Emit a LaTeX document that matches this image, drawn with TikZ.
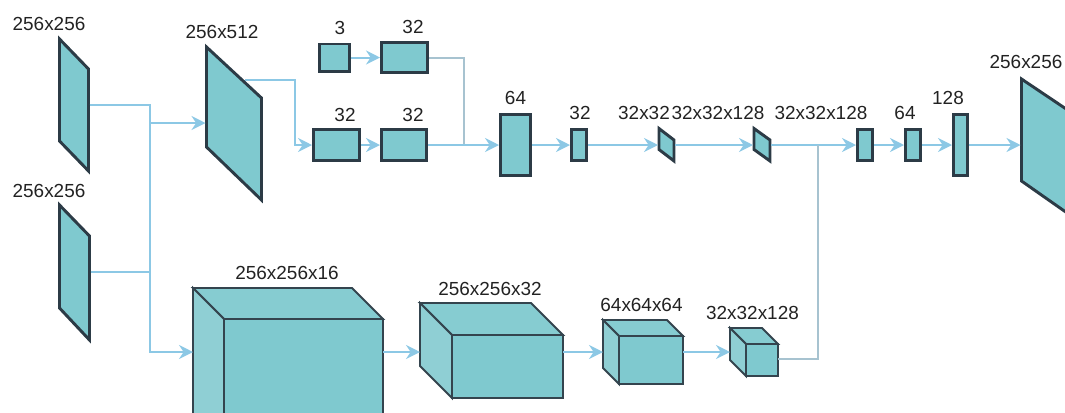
\documentclass[tikz,border=0pt]{standalone}
\usepackage{fontspec}
\setmainfont{Liberation Sans}
\usetikzlibrary{arrows.meta}

\definecolor{fillc}{HTML}{7FC9CF}
\definecolor{topc}{HTML}{86CCD1}
\definecolor{sidec}{HTML}{8FCFD4}
\definecolor{edgec}{HTML}{2C3B46}
\definecolor{cubec}{HTML}{34444E}
\definecolor{arrc}{HTML}{8CC8E5}
\definecolor{lnkc}{HTML}{A7C3D0}
\definecolor{txtc}{HTML}{222222}

\tikzset{
  plane/.style={draw=edgec, line width=2.2pt, fill=fillc, line join=miter},
  blk/.style 2 args={plane, rectangle, inner sep=0pt,
    minimum width=#1*0.75pt-2.2pt, minimum height=#2*0.75pt-2.2pt},
  cubeedge/.style={draw=cubec, line width=1.4pt, line join=miter},
  lbl/.style={font=\fontsize{14.2}{17}\selectfont, text=txtc, inner sep=0pt},
  flow/.style={draw=arrc, line width=1.5pt,
    -{Stealth[length=10.5pt,width=10.5pt,inset=3.5pt]}},
  wire/.style={draw=lnkc, line width=1.5pt},
  feed/.style={draw=arrc, line width=1.5pt},
}

% feature block: name, back-left x, back-top y, width, height, depth
\newcommand{\featurecube}[6]{%
  \filldraw[cubeedge, fill=topc] (#2,#3) -- ++(#4,0) -- ++(#6,#6) -- ++(-#4,0) -- cycle;
  \filldraw[cubeedge, fill=sidec] (#2,#3) -- ++(#6,#6) -- ++(0,#5) -- ++(-#6,-#6) -- cycle;
  \filldraw[cubeedge, fill=fillc] (#2+#6,#3+#6) rectangle ++(#4,#5);
  \coordinate (#1-w) at (#2,352);
  \coordinate (#1-e) at (#2+#6+#4,352);
}

\begin{document}
\begin{tikzpicture}[x=0.75pt,y=-0.75pt]
\useasboundingbox (0,0) rectangle (1065,412);
\clip (0,0) rectangle (1065,412);

% ---------- image planes ----------
\draw[plane] (59.5,39) -- (88.5,69) -- (88.5,171) -- (59.5,141) -- cycle;
\draw[plane] (59.5,205) -- (89.5,236) -- (89.5,340) -- (59.5,308) -- cycle;
\draw[plane] (206.5,47) -- (261.5,98) -- (261.5,200) -- (206.5,147) -- cycle;
\draw[plane] (659,128.5) -- (674,140) -- (674,161) -- (659,149.5) -- cycle;
\draw[plane] (754,128.5) -- (770,140) -- (770,161) -- (754,149.5) -- cycle;
\draw[plane] (1021.5,79) -- (1090,125) -- (1090,229) -- (1021.5,181) -- cycle;

\coordinate (in1-e) at (89.5,105);
\coordinate (in2-e) at (90.5,272);
\coordinate (cat-w) at (205.5,123);
\coordinate (cat-e) at (245,80);
\coordinate (s1-w) at (658,145);
\coordinate (s1-e) at (675,145);
\coordinate (s2-w) at (753,145);
\coordinate (s2-e) at (771,145);
\coordinate (out-w) at (1020.5,145);

% ---------- vector blocks ----------
\node[blk={33}{30}] (b3)    at (334.5,57.5) {};
\node[blk={49}{33}] (b32a)  at (404.5,57.5) {};
\node[blk={49}{34}] (b32b)  at (336.5,145) {};
\node[blk={48}{34}] (b32c)  at (404,145) {};
\node[blk={33}{64}] (b64)   at (515.5,145) {};
\node[blk={18}{34}] (b32d)  at (579,145) {};
\node[blk={18}{34}] (b128)  at (865,145) {};
\node[blk={18}{34}] (b64b)  at (913,145) {};
\node[blk={17}{64}] (b128b) at (960.5,145) {};

% ---------- feature volumes ----------
\featurecube{c1}{193}{288}{159}{150}{31}
\featurecube{c2}{420}{303}{111}{63}{32}
\featurecube{c3}{603}{320}{64}{48}{16}
\featurecube{c4}{730}{328}{32}{32}{16}

% ---------- labels ----------
\node[lbl] (l-in1)  at (49,24)    {256x256};
\node[lbl] (l-in2)  at (49,191)   {256x256};
\node[lbl] (l-cat)  at (222,32)   {256x512};
\node[lbl] (l-b3)   at (340,27.5) {3};
\node[lbl] (l-b32a) at (413,27)   {32};
\node[lbl] (l-b32b) at (345,115)  {32};
\node[lbl] (l-b32c) at (413,115)  {32};
\node[lbl] (l-b64)  at (515.5,98) {64};
\node[lbl] (l-b32d) at (580,113)  {32};
\node[lbl] (l-s1)   at (644,113)  {32x32};
\node[lbl] (l-s2)   at (718,113)  {32x32x128};
\node[lbl] (l-b128) at (821,113)  {32x32x128};
\node[lbl] (l-b64b) at (905,113)  {64};
\node[lbl] (l-b128b) at (948,98)  {128};
\node[lbl] (l-out)  at (1026,62)  {256x256};
\node[lbl] (l-c1)   at (287,273)  {256x256x16};
\node[lbl] (l-c2)   at (490,289)  {256x256x32};
\node[lbl] (l-c3)   at (641.5,305) {64x64x64};
\node[lbl] (l-c4)   at (752.5,313) {32x32x128};

% ---------- junction points ----------
\coordinate (j1) at (150,105);
\coordinate (j2) at (150,123);
\coordinate (j3) at (150,272);
\coordinate (k1) at (295,80);
\coordinate (j5) at (464,145);
\coordinate (j6) at (818,145);

% ---------- connectors ----------
\draw[flow] (in1-e) -- (j1) |- (c1-w);
\draw[feed] (in2-e) -- (j3);
\draw[flow] (j2) -- (cat-w);
\draw[flow] (cat-e) -- (k1) |- (b32b.west);
\draw[flow] (b3) -- (b32a);
\draw[flow] (b32b) -- (b32c);
\draw[wire] (b32a.east) -| (j5);
\draw[flow] (b32c) -- (b64);
\draw[flow] (b64) -- (b32d);
\draw[flow] (b32d) -- (s1-w);
\draw[flow] (s1-e) -- (s2-w);
\draw[flow] (s2-e) -- (b128);
\draw[flow] (b128) -- (b64b);
\draw[flow] (b64b) -- (b128b);
\draw[flow] (b128b) -- (out-w);
\draw[flow] (c1-e) -- (c2-w);
\draw[flow] (c2-e) -- (c3-w);
\draw[flow] (c3-e) -- (c4-w);
\draw[wire] (c4-e |- 0,359) -| (j6);
\end{tikzpicture}
\end{document}
